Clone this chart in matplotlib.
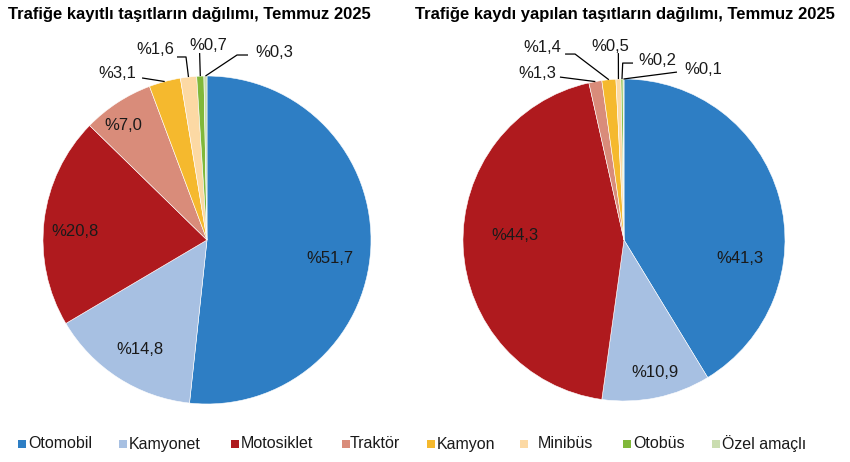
import matplotlib
matplotlib.use("Agg")
import matplotlib.pyplot as plt
from matplotlib.patches import Rectangle
import numpy as np

plt.rcParams['font.family'] = ['Liberation Sans', 'DejaVu Sans']

categories = ["Otomobil", "Kamyonet", "Motosiklet", "Traktör", "Kamyon", "Minibüs", "Otobüs", "Özel amaçlı"]
registered = [51.7, 14.8, 20.8, 7.0, 3.1, 1.6, 0.7, 0.3]
new_reg = [41.3, 10.9, 44.3, 1.3, 1.4, 0.5, 0.2, 0.1]
colors = ["#2E7EC4", "#A7C0E2", "#AF1A1E", "#D98C7A", "#F5B92E", "#FCD9A4", "#80B83A", "#CADDB0"]
title_left = "Trafiğe kayıtlı taşıtların dağılımı, Temmuz 2025"
title_right = "Trafiğe kaydı yapılan taşıtların dağılımı, Temmuz 2025"

W, H = 850, 462
fig = plt.figure(figsize=(W / 100, H / 100), dpi=100)


def make_ax(cx, cy, r):
    ax = fig.add_axes([(cx - r) / W, (H - cy - r) / H, 2 * r / W, 2 * r / H])
    ax.set_xlim(-1, 1)
    ax.set_ylim(-1, 1)
    ax.set_aspect('equal')
    ax.axis('off')
    return ax


def fmt(v):
    return "%" + ("%.1f" % v).replace(".", ",")


def edge_point(values, i):
    tot = sum(values)
    cum = sum(values[:i]) + values[i] / 2
    ang = np.deg2rad(90 - cum / tot * 360)
    return np.cos(ang), np.sin(ang)


def draw(ax, values, inside_pos, outside):
    ax.pie(values, colors=colors, startangle=90, counterclock=False, radius=1,
           wedgeprops=dict(edgecolor='white', linewidth=0.4), frame=False)
    ax.set_xlim(-1, 1)
    ax.set_ylim(-1, 1)
    for i, pos in inside_pos.items():
        ax.text(pos[0], pos[1], fmt(values[i]), ha='center', va='center', fontsize=12, color='#1a1a1a')
    for i, (tpos, path) in outside.items():
        ax.text(tpos[0], tpos[1], fmt(values[i]), ha='center', va='center', fontsize=12,
                color='#1a1a1a', clip_on=False)
        ex, ey = edge_point(values, i)
        xs = [p[0] for p in path] + [ex]
        ys = [p[1] for p in path] + [ey]
        ax.plot(xs, ys, color='black', lw=0.9, clip_on=False, solid_capstyle='butt')


axL = make_ax(207, 240, 164)
draw(axL, registered,
     {0: (0.75, -0.11), 1: (-0.41, -0.67), 2: (-0.805, 0.05), 3: (-0.512, 0.70)},
     {4: ((-0.549, 1.018), [(-0.396, 0.988)]),
      5: ((-0.317, 1.159), [(-0.183, 1.116), (-0.128, 1.116)]),
      6: ((0.006, 1.189), [(-0.045, 1.140)]),
      7: ((0.409, 1.146), [(0.25, 1.128), (0.183, 1.128)])})

axR = make_ax(624, 240, 161)
draw(axR, new_reg,
     {0: (0.72, -0.112), 1: (0.193, -0.82), 2: (-0.677, 0.031)},
     {3: ((-0.54, 1.037), [(-0.398, 1.012)]),
      4: ((-0.509, 1.193), [(-0.366, 1.155), (-0.304, 1.155)]),
      5: ((-0.087, 1.199), [(-0.035, 1.161)]),
      6: ((0.205, 1.118), [(0.056, 1.099), (-0.008, 1.099)]),
      7: ((0.491, 1.056), [(0.329, 1.043)])})

fig.text(8 / W, 1 - 14 / H, title_left, ha='left', va='center', fontsize=12, fontweight='bold')
fig.text(415 / W, 1 - 14 / H, title_right, ha='left', va='center', fontsize=12, fontweight='bold')

# legend (manual placement to mimic the original spacing)
sq_x = [18, 119, 231, 342, 427, 520, 623, 712]
txt_x = [28, 129, 241, 350, 437, 538, 633, 722]
sq_y = 444
base_y = 448.5
sq = 8
for c, name, sx, tx in zip(colors, categories, sq_x, txt_x):
    fig.add_artist(Rectangle((sx / W, (H - sq_y - sq / 2) / H), sq / W, sq / H,
                             transform=fig.transFigure, facecolor=c, edgecolor='none'))
    fig.text(tx / W, (H - base_y) / H, name, ha='left', va='baseline', fontsize=11.5, color='#1a1a1a')

fig.savefig("out.png", dpi=100, facecolor='white')
